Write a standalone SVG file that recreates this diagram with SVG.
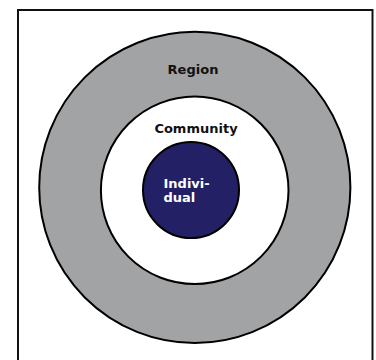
<svg xmlns="http://www.w3.org/2000/svg" width="376" height="360" viewBox="0 0 376 360">
<style>
.ring{stroke:#000;stroke-width:2}
.lbl{font-family:"DejaVu Sans",Verdana,sans-serif;font-weight:bold;font-size:13px}
</style>
<rect x="0" y="0" width="376" height="360" fill="#fff"/>
<rect x="18" y="10" width="354.5" height="360" fill="#fff" stroke="#111" stroke-width="2"/>
<g id="region">
<circle class="ring" cx="194.8" cy="187.4" r="155.6" fill="#a2a3a5"/>
<text class="lbl" x="193" y="74" text-anchor="middle" fill="#111">Region</text>
</g>
<g id="community">
<circle class="ring" cx="194.7" cy="190.3" r="93.8" fill="#fff"/>
<text class="lbl" x="196" y="132.7" text-anchor="middle" fill="#111">Community</text>
</g>
<g id="individual">
<circle class="ring" cx="191" cy="190" r="48" fill="#232066"/>
<text class="lbl" x="163.5" y="187.5" fill="#fff">Indivi-</text>
<text class="lbl" x="163.5" y="201.7" fill="#fff">dual</text>
</g>
<g id="connectors"/>
</svg>
